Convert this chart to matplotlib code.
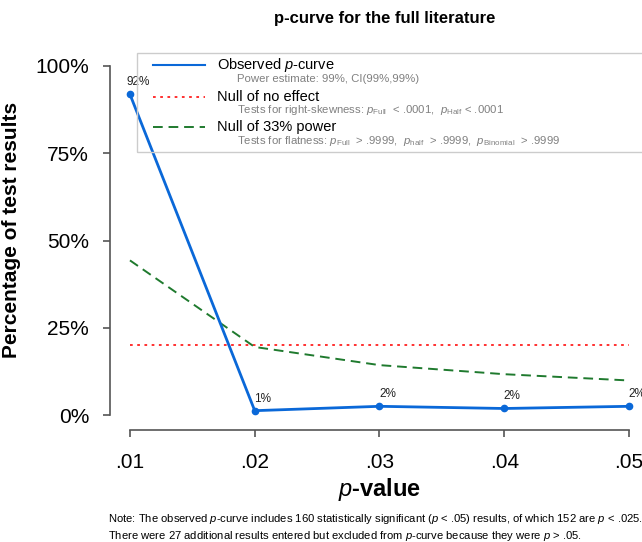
import matplotlib
matplotlib.use('Agg')
import matplotlib.pyplot as plt
from matplotlib.lines import Line2D

plt.rcParams['font.family'] = ['Liberation Sans', 'DejaVu Sans']
plt.rcParams['mathtext.fontset'] = 'custom'
plt.rcParams['mathtext.rm'] = 'Liberation Sans'
plt.rcParams['mathtext.it'] = 'Liberation Sans:italic'
plt.rcParams['mathtext.bf'] = 'Liberation Sans:bold'

# ----------- DATA -----------
p_bins = [0.01, 0.02, 0.03, 0.04, 0.05]
observed = [91.875, 1.25, 2.5, 1.875, 2.5]
null_no_effect = [20, 20, 20, 20, 20]
null_33 = [44.3, 19.5, 14.3, 11.7, 9.9]
obs_labels = ['92%', '1%', '2%', '2%', '2%']
x_ticklabels = ['.01', '.02', '.03', '.04', '.05']
y_ticks = [0, 25, 50, 75, 100]
y_ticklabels = ['0%', '25%', '50%', '75%', '100%']

W, H = 642, 542
fig = plt.figure(figsize=(W / 100, H / 100), dpi=100)


# pixel (from top-left) -> figure fraction
def px(x, y):
    return x / W, 1 - y / H


ax = fig.add_axes([110 / W, 1 - 429 / H, 539 / W, 377 / H])
ax.set_xlim(0.0084, 0.0516)
ax.set_ylim(-4, 104)

blue = '#0a68d8'
red = '#ff2020'
green = '#1f7a2e'

ax.plot(p_bins, null_no_effect, color=red, lw=1.3, ls=(0, (1.5, 2.5)), clip_on=False)
ax.plot(p_bins, null_33, color=green, lw=1.4, ls=(0, (5, 3)), clip_on=False)
ax.plot(p_bins, observed, color=blue, lw=2, marker='o', ms=4.5, clip_on=False, zorder=8)

for x, y, s in zip(p_bins, observed, obs_labels):
    ax.annotate(s, (x, y), xytext=(8, 12), textcoords='offset pixels',
                ha='center', va='center', fontsize=8.5, color='#222222',
                annotation_clip=False, zorder=9)

# R-like axes
for side in ['top', 'right']:
    ax.spines[side].set_visible(False)
ax.spines['left'].set_bounds(0, 100)
ax.spines['bottom'].set_bounds(0.01, 0.05)
ax.spines['bottom'].set_position(('outward', 1))
for side in ['left', 'bottom']:
    ax.spines[side].set_color('#555555')
    ax.spines[side].set_linewidth(1.2)
ax.set_xticks(p_bins)
ax.set_xticklabels(x_ticklabels)
ax.set_yticks(y_ticks)
ax.set_yticklabels(y_ticklabels)
ax.tick_params(axis='both', length=5, width=1.2, color='#555555', labelsize=15)
ax.tick_params(axis='y', pad=10)
ax.tick_params(axis='x', pad=11)

ax.set_ylabel('Percentage of test results', fontsize=15, fontweight='bold')
ax.yaxis.set_label_coords(-0.165, 0.528)
ax.set_xlabel('$\\mathbf{\\mathit{p}}$-value', fontsize=17, fontweight='bold', labelpad=3)

fig.text(*px(385, 18), 'p-curve for the full literature', ha='center', va='center',
         fontsize=12, fontweight='bold')

# ----------- LEGEND -----------
x0, y0 = px(137, 53)
x1, y1 = px(660, 152)
fig.patches.append(plt.Rectangle((x0, y1), x1 - x0, y0 - y1, transform=fig.transFigure,
                                 facecolor='none', edgecolor='#cccccc', lw=1, zorder=5))
rows = [
    (65, 79, blue, '-', 1.5, 'Observed $\\mathit{p}$-curve',
     'Power estimate: 99%, CI(99%,99%)'),
    (97, 110, red, (0, (1.5, 2.5)), 1.3, 'Null of no effect',
     'Tests for right-skewness: $\\mathit{p}_{\\mathrm{Full}}$  < .0001,  $\\mathit{p}_{\\mathrm{Half}}$ < .0001'),
    (127, 141, green, (0, (5, 3)), 1.4, 'Null of 33% power',
     'Tests for flatness: $\\mathit{p}_{\\mathrm{Full}}$  > .9999,  $\\mathit{p}_{\\mathrm{half}}$  > .9999,  $\\mathit{p}_{\\mathrm{Binomial}}$  > .9999'),
]
for ym, ys, c, ls, lw, main, sub in rows:
    xa, ya = px(153, ym)
    xb, _ = px(205, ym)
    fig.add_artist(Line2D([xa, xb], [ya, ya], transform=fig.transFigure, color=c,
                          ls=ls, lw=lw, zorder=6))
    fig.text(*px(217, ym), main, fontsize=10.5, va='center', zorder=6)
    fig.text(*px(237, ys), sub, fontsize=8.2, color='#808080', va='center', zorder=6)

# ----------- NOTE -----------
fig.text(*px(108, 519), 'Note: The observed $\\mathit{p}$-curve includes 160 statistically significant '
         '($\\mathit{p}$ < .05) results, of which 152 are $\\mathit{p}$ < .025.',
         fontsize=8.1, va='center')
fig.text(*px(108, 536), 'There were 27 additional results entered but excluded from '
         '$\\mathit{p}$-curve because they were $\\mathit{p}$ > .05.',
         fontsize=8.1, va='center')

fig.savefig('out.png', dpi=100)
